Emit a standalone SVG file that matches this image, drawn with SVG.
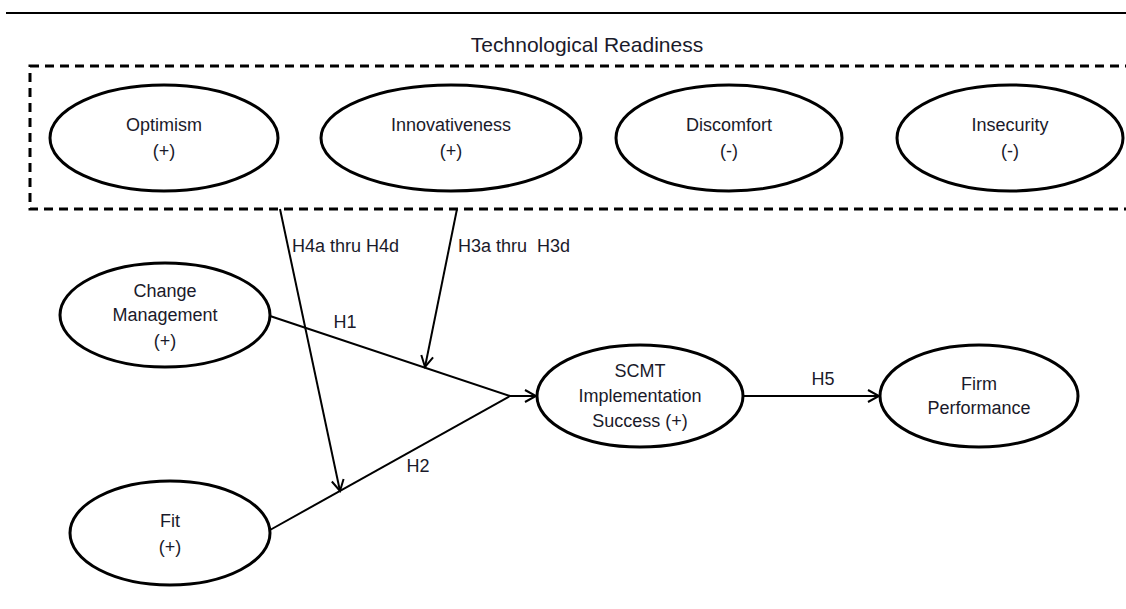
<svg xmlns="http://www.w3.org/2000/svg" width="1126" height="609" viewBox="0 0 1126 609">
<defs>
<style>
text{font-family:"Liberation Sans",Arial,sans-serif;font-size:18px;fill:#1a1a2a;text-anchor:middle;dominant-baseline:central}
.node ellipse{fill:#fff;stroke:#000;stroke-width:3}
.conn line{stroke:#000;stroke-width:2;fill:none}
.lbl{text-anchor:start}
</style>
<marker id="arr" markerWidth="14" markerHeight="14" refX="12" refY="7" orient="auto" markerUnits="userSpaceOnUse">
<path d="M1,1 L12,7 L1,13" fill="none" stroke="#000" stroke-width="2"/>
</marker>
</defs>
<rect width="1126" height="609" fill="#fff"/>
<line x1="6" y1="13" x2="1126" y2="13" stroke="#000" stroke-width="2"/>
<text x="587" y="44" style="font-size:21px">Technological Readiness</text>
<rect id="tr-group" x="30" y="66" width="1110" height="143" fill="none" stroke="#000" stroke-width="3" stroke-dasharray="9,6"/>

<g id="optimism" class="node"><ellipse cx="164" cy="138" rx="114" ry="53"/><text x="164" y="125">Optimism</text><text x="164" y="151">(+)</text></g>
<g id="innovativeness" class="node"><ellipse cx="451" cy="138" rx="130" ry="53"/><text x="451" y="125">Innovativeness</text><text x="451" y="151">(+)</text></g>
<g id="discomfort" class="node"><ellipse cx="729" cy="138" rx="113" ry="53"/><text x="729" y="125">Discomfort</text><text x="729" y="151">(-)</text></g>
<g id="insecurity" class="node"><ellipse cx="1010" cy="138" rx="113" ry="53"/><text x="1010" y="125">Insecurity</text><text x="1010" y="151">(-)</text></g>

<g id="change-management" class="node"><ellipse cx="165" cy="315" rx="105" ry="52"/><text x="165" y="291">Change</text><text x="165" y="315">Management</text><text x="165" y="341">(+)</text></g>
<g id="fit" class="node"><ellipse cx="170" cy="533" rx="100" ry="52"/><text x="170" y="521">Fit</text><text x="170" y="547">(+)</text></g>
<g id="scmt" class="node"><ellipse cx="640" cy="396" rx="103" ry="51"/><text x="640" y="371">SCMT</text><text x="640" y="396">Implementation</text><text x="640" y="421">Success (+)</text></g>
<g id="firm-performance" class="node"><ellipse cx="979" cy="396" rx="99" ry="51"/><text x="979" y="384">Firm</text><text x="979" y="408">Performance</text></g>

<g id="connectors" class="conn">
<line x1="270" y1="316" x2="510" y2="396"/>
<line x1="270" y1="530" x2="510" y2="396"/>
<line x1="510" y1="396" x2="536" y2="396" marker-end="url(#arr)"/>
<line x1="280" y1="209" x2="340" y2="491" marker-end="url(#arr)"/>
<line x1="457" y1="209" x2="425" y2="367" marker-end="url(#arr)"/>
<line x1="743" y1="396" x2="879" y2="396" marker-end="url(#arr)"/>
</g>
<g id="labels">
<text class="lbl" x="292" y="246">H4a thru H4d</text>
<text class="lbl" x="458" y="246" xml:space="preserve">H3a thru  H3d</text>
<text x="345" y="322">H1</text>
<text x="418" y="466">H2</text>
<text x="823" y="379">H5</text>
</g>
</svg>
